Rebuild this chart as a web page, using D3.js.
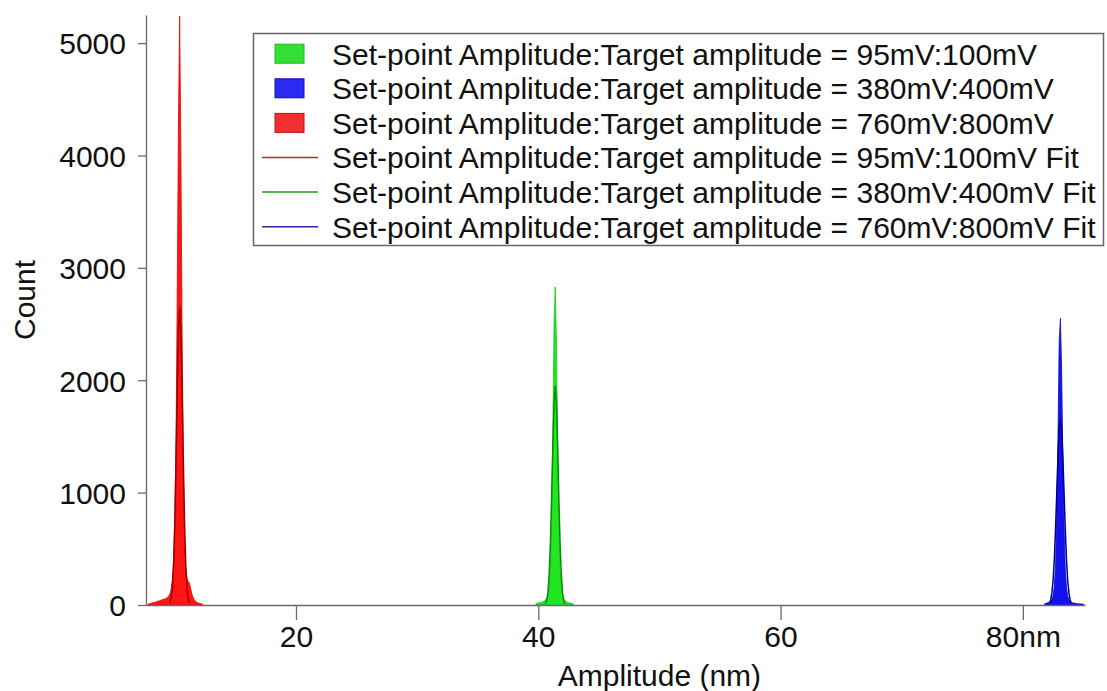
<!DOCTYPE html>
<html>
<head>
<meta charset="utf-8">
<script src="https://cdn.jsdelivr.net/npm/d3@7"></script>
<style>
  body { margin: 0; background: #fff; }
  svg { display: block; font-family: "Liberation Sans", Arial, sans-serif; }
</style>
</head>
<body>
<svg id="chart"></svg>
<script>
// histogram bins (nm), width 0.1
const binWidth = 0.1;

const redStart = 7.8;
const redCounts = [8, 12, 15, 15, 20, 22, 25, 30, 35, 35, 40, 45, 48, 50, 55, 60, 70, 80, 100, 140,
    230, 400, 750, 1500, 2800, 4300, 5240, 4000, 2400, 1200, 600, 330, 240, 210, 195, 150, 100, 70,
    45, 35, 25, 20, 15, 12, 10, 8];

const greenStart = 39.8;
const greenCounts = [10, 15, 18, 20, 22, 25, 28, 35, 45, 60, 95, 170, 330, 700, 1500, 2500, 2830,
    2350, 1400, 700, 330, 160, 90, 55, 40, 30, 25, 20, 18, 15, 12, 10];

const blueStart = 81.8;
const blueCounts = [10, 15, 18, 22, 28, 35, 50, 85, 170, 360, 800, 1500, 2350, 2550, 2100, 1300,
    700, 330, 160, 80, 48, 32, 25, 20, 18, 15, 14, 12, 12, 10, 10, 8, 8];

// fit curves, same 0.1 step
const redFitStart = 9.6;
const redFit = [17, 55, 150, 360, 740, 1290, 1920, 2440, 2650, 2440, 1920, 1290, 740, 360, 150, 55, 17];

const greenFitStart = 40.6;
const greenFit = [12, 40, 110, 270, 540, 950, 1410, 1800, 1950, 1800, 1410, 950, 540, 270, 110, 40, 12];

const blueFitStart = 82.2;
const blueFit = [16, 45, 110, 220, 410, 680, 1000, 1320, 1560, 1650, 1560, 1320, 1000, 680, 410, 220, 110, 45, 16];

const xTickValues = [20, 40, 60, 80];
const xTickLabels = ['20', '40', '60', '80nm'];
const yTickValues = [0, 1000, 2000, 3000, 4000, 5000];

const legendLabels = [
    'Set-point Amplitude:Target amplitude = 95mV:100mV',
    'Set-point Amplitude:Target amplitude = 380mV:400mV',
    'Set-point Amplitude:Target amplitude = 760mV:800mV',
    'Set-point Amplitude:Target amplitude = 95mV:100mV Fit',
    'Set-point Amplitude:Target amplitude = 380mV:400mV Fit',
    'Set-point Amplitude:Target amplitude = 760mV:800mV Fit'
];

class HistChart {

    constructor( config ) {
        this.config = {
            parent: config.parent,
            width: config.width || 1107,
            height: config.height || 691,
            margin: config.margin || {top:15, right:22, bottom:86, left:146}
        }
        this.init();
    }

    init() {
        let self = this;

        self.svg = d3.select( self.config.parent )
            .attr('width', self.config.width)
            .attr('height', self.config.height);

        self.chart = self.svg.append('g')
            .attr('transform', `translate(${self.config.margin.left}, ${self.config.margin.top})`);

        self.inner_width = self.config.width - self.config.margin.left - self.config.margin.right;
        self.inner_height = self.config.height - self.config.margin.top - self.config.margin.bottom;

        self.xscale = d3.scaleLinear()
            .domain( [7.62, 85.13] )
            .range( [0, self.inner_width] );

        self.yscale = d3.scaleLinear()
            .domain( [0, 5250] )
            .range( [self.inner_height, 0] );
    }

    toPoints( start, values ) {
        return values.map( (v, i) => ({ x: start + i * binWidth, y: v }) );
    }

    render() {
        let self = this;

        const area = d3.area()
            .x( d => self.xscale(d.x) )
            .y0( self.yscale(0) )
            .y1( d => self.yscale(d.y) );

        const line = d3.line()
            .x( d => self.xscale(d.x) )
            .y( d => self.yscale(d.y) );

        const hists = [
            { start: greenStart, values: greenCounts, fill: '#22e622', stroke: '#18c818' },
            { start: blueStart, values: blueCounts, fill: '#1212f0', stroke: '#0a0ad0' },
            { start: redStart, values: redCounts, fill: '#ff1414', stroke: '#e80000' }
        ];
        hists.forEach( h => {
            self.chart.append('path')
                .attr('d', area( self.toPoints(h.start, h.values) ))
                .attr('fill', h.fill)
                .attr('stroke', h.stroke)
                .attr('stroke-width', 0.8);
        });

        const fits = [
            { start: redFitStart, values: redFit, color: '#9a0000' },
            { start: greenFitStart, values: greenFit, color: '#009000' },
            { start: blueFitStart, values: blueFit, color: '#000090' }
        ];
        fits.forEach( f => {
            self.chart.append('path')
                .attr('d', line( self.toPoints(f.start, f.values) ))
                .attr('fill', 'none')
                .attr('stroke', f.color)
                .attr('stroke-width', 1.5);
        });

        // axes
        const xaxis = d3.axisBottom( self.xscale )
            .tickValues( xTickValues )
            .tickFormat( (d, i) => xTickLabels[i] )
            .tickSizeInner( 15 )
            .tickSizeOuter( 0 )
            .tickPadding( 6 );

        const yaxis = d3.axisLeft( self.yscale )
            .tickValues( yTickValues )
            .tickFormat( d3.format('d') )
            .tickSizeInner( 8 )
            .tickSizeOuter( 0 )
            .tickPadding( 12 );

        const xg = self.chart.append('g')
            .attr('transform', `translate(0, ${self.inner_height})`)
            .call( xaxis );

        const yg = self.chart.append('g')
            .call( yaxis );

        [xg, yg].forEach( g => {
            g.selectAll('path, line').attr('stroke', '#6a6a6a').attr('stroke-width', 1.3);
            g.selectAll('text')
                .attr('fill', '#111')
                .attr('font-size', 30)
                .attr('font-family', '"Liberation Sans", Arial, sans-serif');
        });
        yg.selectAll('text').attr('dy', '0.36em');

        self.svg.append('text')
            .attr('x', self.config.margin.left + self.xscale(50))
            .attr('y', 686)
            .attr('text-anchor', 'middle')
            .attr('font-size', 30)
            .attr('fill', '#111')
            .text('Amplitude (nm)');

        self.svg.append('text')
            .attr('transform', 'translate(35, 300) rotate(-90)')
            .attr('text-anchor', 'middle')
            .attr('font-size', 30)
            .attr('fill', '#111')
            .text('Count');

        // legend
        const legend = self.svg.append('g');
        legend.append('rect')
            .attr('x', 253.5).attr('y', 33.5)
            .attr('width', 850).attr('height', 212)
            .attr('fill', '#fff')
            .attr('stroke', '#666')
            .attr('stroke-width', 1.5);

        const keys = [
            { type: 'box', fill: '#33e033', stroke: '#22b822' },
            { type: 'box', fill: '#2a2af0', stroke: '#1010b0' },
            { type: 'box', fill: '#f03030', stroke: '#c01010' },
            { type: 'line', stroke: '#a83030' },
            { type: 'line', stroke: '#20a020' },
            { type: 'line', stroke: '#2a2a9a' }
        ];

        const rows = legend.selectAll('g.row')
            .data( legendLabels )
            .join('g')
            .attr('class', 'row')
            .attr('transform', (d, i) => `translate(0, ${53.7 + i * 34.6})`);

        rows.each( function(d, i) {
            const g = d3.select(this);
            const k = keys[i];
            if (k.type === 'box') {
                g.append('rect')
                    .attr('x', 275).attr('y', -9.5)
                    .attr('width', 29).attr('height', 19)
                    .attr('fill', k.fill)
                    .attr('stroke', k.stroke)
                    .attr('stroke-width', 1);
            } else {
                g.append('line')
                    .attr('x1', 262).attr('x2', 318)
                    .attr('y1', 0).attr('y2', 0)
                    .attr('stroke', k.stroke)
                    .attr('stroke-width', 1.5);
            }
            g.append('text')
                .attr('x', 332)
                .attr('dy', '0.36em')
                .attr('font-size', 30)
                .attr('fill', '#111')
                .text(d);
        });
    }
}

const chart = new HistChart( { parent: '#chart' } );
chart.render();
</script>
</body>
</html>
